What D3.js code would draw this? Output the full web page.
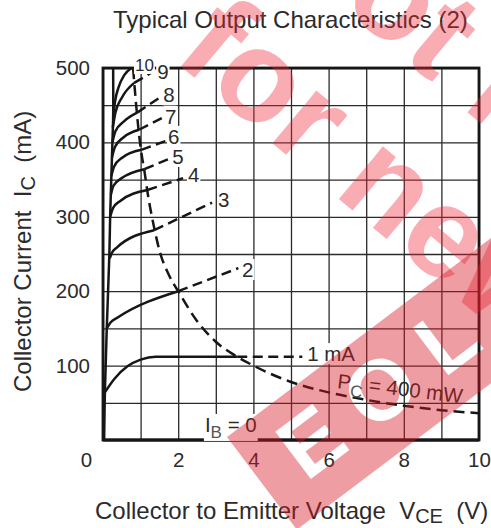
<!DOCTYPE html>
<html><head><meta charset="utf-8">
<script src="https://cdn.jsdelivr.net/npm/d3@7/dist/d3.min.js"></script>
<style>
html,body{margin:0;padding:0;background:#fff;}
svg{display:block;}
text{font-family:"Liberation Sans",Arial,Helvetica,sans-serif;}
</style></head><body>
<svg id="chart" width="491" height="528"></svg>
<script>
// ---------- data ----------
const vceTicks = [0, 2, 4, 6, 8, 10];
const icTicks = [100, 200, 300, 400, 500];
const vceGrid = [0, 1, 2, 3, 4, 5, 6, 7, 8, 9, 10];
const icGrid = [0, 50, 100, 150, 200, 250, 300, 350, 400, 450, 500];

const envelope = [[0.03,0],[0.05,64],[0.1,150],[0.17,250],[0.19,300],[0.22,350],[0.25,400],[0.27,434],[0.27,500]];
const pc400 = [[0.8,500],[0.9,440],[1.0,393],[1.1,362],[1.2,328],[1.35,288],[1.5,255],[1.75,222],[2.0,200],[2.5,160],[3.0,132],[3.5,114],[4.0,100],[5.0,78],[6.0,64],[7.0,54],[8.0,46],[9.0,40],[10.0,36]];
const ib0 = [[0,0],[10,0]];
const ib1Solid = [[0.05,64],[0.3,82],[0.65,99],[1.0,108],[1.4,112],[3.57,112]];
const ib1Dash  = [[3.57,112],[5.3,112]];
const ib2Solid = [[0.1,150],[0.2,158],[0.4,165],[2.0,200]];
const ib2Dash  = [[2.0,200],[3.6,231]];
const ib3Solid = [[0.18,244],[0.23,251],[0.35,258],[1.36,282]];
const ib3Dash  = [[1.36,282],[2.9,319]];
const ib4Solid = [[0.19,300],[0.27,312],[0.45,321],[1.18,336]];
const ib4Dash  = [[1.18,336],[2.13,352]];
const ib5Solid = [[0.21,330],[0.28,342],[0.5,352],[1.1,364]];
const ib5Dash  = [[1.1,364],[1.76,378]];
const ib6Solid = [[0.22,355],[0.3,368],[0.5,379],[1.02,390]];
const ib6Dash  = [[1.02,390],[1.67,402]];
const ib7Solid = [[0.24,380],[0.32,394],[0.55,407],[0.96,417]];
const ib7Dash  = [[0.96,417],[1.58,433]];
const ib8Solid = [[0.25,400],[0.33,415],[0.55,428],[0.91,440]];
const ib8Dash  = [[0.91,440],[1.5,460]];
const ib9Solid = [[0.26,420],[0.33,440],[0.5,460],[0.83,480]];
const ib9Dash  = [[0.83,480],[1.3,494]];
const ib10Solid = [[0.27,434],[0.32,455],[0.42,475],[0.56,490],[0.76,500]];

const curveLabels = ["10","9","8","7","6","5","4","3","2"];
const curveLabelAt = [[0.85,496],[1.44,485],[1.6,454],[1.65,425],[1.73,398],[1.84,371],[2.26,347],[3.06,313],[3.7,219]];

// ---------- setup ----------
const svg = d3.select("#chart");
const x = d3.scaleLinear().domain([0, 10]).range([103, 479]);
const y = d3.scaleLinear().domain([0, 500]).range([440, 68]);
const ink = "#161616", txt = "#2b2b2b";

// grid
const gx = svg.append("g").attr("transform", `translate(0,${y(0)})`)
  .call(d3.axisBottom(x).tickValues(vceGrid).tickSize(-(y(0) - y(500))).tickFormat(""));
gx.select(".domain").remove();
gx.selectAll(".tick line").attr("stroke", "#2a2a2a").attr("stroke-width", 1.3);
const gy = svg.append("g").attr("transform", `translate(${x(0)},0)`)
  .call(d3.axisLeft(y).tickValues(icGrid).tickSize(-(x(10) - x(0))).tickFormat(""));
gy.select(".domain").remove();
gy.selectAll(".tick line").attr("stroke", "#2a2a2a").attr("stroke-width", 1.3);

// frame
svg.append("rect").attr("x", x(0)).attr("y", y(500))
  .attr("width", x(10) - x(0)).attr("height", y(0) - y(500))
  .attr("fill", "none").attr("stroke", ink).attr("stroke-width", 2.8);

// curves
const lineM = d3.line().x(d => x(d[0])).y(d => y(d[1])).curve(d3.curveMonotoneX);
const lineC = d3.line().x(d => x(d[0])).y(d => y(d[1])).curve(d3.curveCatmullRom.alpha(0.5));
const curves = svg.append("g").attr("fill", "none").attr("stroke", ink).attr("stroke-linecap", "butt");
curves.append("path").attr("d", lineC(envelope)).attr("stroke-width", 2.5);
curves.append("path").attr("d", lineM(ib0)).attr("stroke-width", 3);
[ib1Solid, ib2Solid, ib3Solid, ib4Solid, ib5Solid, ib6Solid, ib7Solid, ib8Solid, ib9Solid, ib10Solid]
  .forEach(s => curves.append("path").attr("d", lineM(s)).attr("stroke-width", 2.5));
[ib1Dash, ib2Dash, ib3Dash, ib4Dash, ib5Dash, ib6Dash, ib7Dash, ib8Dash, ib9Dash]
  .forEach(s => curves.append("path").attr("d", lineM(s)).attr("stroke-width", 2.5).attr("stroke-dasharray", "10,5.5"));
curves.append("path").attr("d", lineM(pc400)).attr("stroke-width", 2.5).attr("stroke-dasharray", "11,6");

// labels with white background
function bg(g) {
  const b = g.node().getBBox();
  g.insert("rect", ":first-child").attr("x", b.x - 1).attr("y", b.y + 1)
    .attr("width", b.width + 2).attr("height", b.height - 2).attr("fill", "#fff");
}
curveLabels.forEach((t, i) => {
  const p = curveLabelAt[i];
  const g = svg.append("g");
  g.append("text").attr("x", x(p[0])).attr("y", y(p[1]))
    .attr("font-size", i === 0 ? 17 : 20.5).attr("fill", txt).text(t);
  bg(g);
});
{
  const g = svg.append("g");
  g.append("text").attr("x", x(5.43)).attr("y", y(106)).attr("font-size", 20.5).attr("fill", txt).text("1 mA");
  bg(g);
}
{
  const g = svg.append("g");
  const t = g.append("text").attr("x", x(2.71)).attr("y", y(10.8)).attr("font-size", 20.5).attr("fill", txt);
  t.append("tspan").text("I");
  t.append("tspan").attr("dy", 6).attr("font-size", 17).attr("fill", "#555").text("B");
  t.append("tspan").attr("dy", -6).text(" = 0");
  bg(g);
}
{
  const g = svg.append("g").attr("transform", `translate(${x(6.22)},${y(70)}) rotate(7)`);
  const t = g.append("text").attr("x", 0).attr("y", 0).attr("font-size", 20.5).attr("fill", txt);
  t.append("tspan").text("P");
  t.append("tspan").attr("dy", 7).attr("font-size", 17).attr("fill", "#555").text("C");
  t.append("tspan").attr("dy", -7).text(" = 400 mW");
}

// tick labels
const ax = svg.append("g").attr("transform", `translate(0,${y(0)})`)
  .call(d3.axisBottom(x).tickValues(vceTicks).tickSize(0).tickPadding(12));
ax.select(".domain").remove();
ax.selectAll("text").attr("font-size", 20.5).attr("fill", txt);
ax.selectAll(".tick").filter(d => d === 0).select("text").attr("dx", -17);
const ay = svg.append("g").attr("transform", `translate(${x(0)},0)`)
  .call(d3.axisLeft(y).tickValues(icTicks).tickSize(0).tickPadding(13));
ay.select(".domain").remove();
ay.selectAll("text").attr("font-size", 20.5).attr("fill", txt);

// titles
svg.append("text").attr("x", 113).attr("y", 28).attr("font-size", 24).attr("fill", txt)
  .text("Typical Output Characteristics (2)");
{
  const t = svg.append("text").attr("x", 95).attr("y", 519).attr("font-size", 24).attr("fill", txt)
    .style("white-space", "pre");
  t.append("tspan").text("Collector to Emitter Voltage  V");
  t.append("tspan").attr("dy", 4).attr("font-size", 20).text("CE");
  t.append("tspan").attr("dy", -4).text("  (V)");
}
{
  const t = svg.append("text").attr("transform", "translate(30.5,392) rotate(-90)")
    .attr("font-size", 24).attr("fill", txt).style("white-space", "pre");
  t.append("tspan").text("Collector Current  I");
  t.append("tspan").attr("dy", 4).attr("font-size", 20).text("C");
  t.append("tspan").attr("dy", -4).text("  (mA)");
}

// watermark overlay (semi-transparent stamp drawn through masks)
const defs = svg.append("defs");
const wmMask = defs.append("mask").attr("id", "wmText").attr("maskUnits", "userSpaceOnUse")
  .attr("x", 0).attr("y", 0).attr("width", 491).attr("height", 528);
wmMask.append("rect").attr("width", 491).attr("height", 528).attr("fill", "#000");
wmMask.append("text").attr("transform", "translate(267,-56) rotate(40)")
  .attr("font-size", 130).attr("font-weight", "bold").attr("fill", "#fff").text("Not recommended");
wmMask.append("text").attr("transform", "translate(171.5,58.6) rotate(40)")
  .attr("font-size", 130).attr("font-weight", "bold").attr("fill", "#fff").text("for new design");
const wm = svg.append("g").attr("pointer-events", "none");
wm.append("rect").attr("width", 491).attr("height", 528)
  .attr("fill", "rgb(240,40,55)").attr("opacity", 0.38).attr("mask", "url(#wmText)");

const knock = defs.append("mask").attr("id", "knock").attr("maskUnits", "userSpaceOnUse")
  .attr("x", -50).attr("y", -50).attr("width", 700).attr("height", 260);
knock.append("rect").attr("x", -50).attr("y", -50).attr("width", 700).attr("height", 260).attr("fill", "#fff");
knock.append("text").attr("x", 36).attr("y", 84).attr("font-size", 86).attr("font-weight", "bold")
  .attr("letter-spacing", 24).attr("fill", "#000").text("EOL");
const bn = wm.append("g").attr("transform", "translate(227,437) rotate(-37)");
bn.append("rect").attr("x", 0).attr("y", 0).attr("width", 500).attr("height", 116)
  .attr("fill", "rgb(215,25,35)").attr("opacity", 0.42).attr("mask", "url(#knock)");
</script>
</body></html>
